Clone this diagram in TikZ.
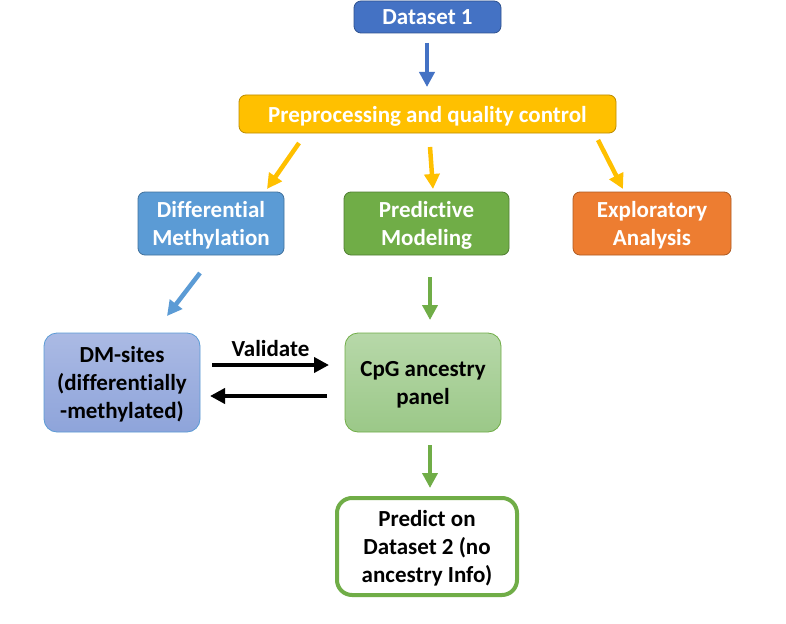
\documentclass[tikz,border=0pt]{standalone}
\usepackage{fontspec}
\setmainfont{Carlito}[Ligatures={NoCommon}]
\usetikzlibrary{arrows.meta,calc}
\definecolor{dblue}{HTML}{4472C4}
\definecolor{dblueb}{HTML}{2F528F}
\definecolor{yel}{HTML}{FFC000}
\definecolor{yelb}{HTML}{BC8C00}
\definecolor{lblue}{HTML}{5B9BD5}
\definecolor{lblueb}{HTML}{41719C}
\definecolor{grn}{HTML}{70AD47}
\definecolor{grnb}{HTML}{507E32}
\definecolor{org}{HTML}{ED7D31}
\definecolor{orgb}{HTML}{AE5A21}
\definecolor{dmtop}{HTML}{ABBAE4}
\definecolor{dmbot}{HTML}{8EA4DA}
\definecolor{cgtop}{HTML}{B7D8A9}
\definecolor{cgbot}{HTML}{9BC888}
\tikzset{
  box/.style={rectangle, rounded corners=7pt, line width=0.8pt, font=\fontsize{23}{28}\selectfont\bfseries, align=center, inner sep=0pt, text depth=0pt},
  wbox/.style={box, text=white},
  arr/.style={line width=4.5pt, -{Triangle[width=15pt,length=15pt]}},
}
\begin{document}
\begin{tikzpicture}[x=1pt,y=-1pt]
\fill[white] (0,0) rectangle (786,623);
\useasboundingbox (0,0) rectangle (786,623);
% boxes
\node[wbox, fill=dblue, draw=dblueb, minimum width=147pt, minimum height=32pt] (d1) at (427.5,17) {Dataset 1};
\node[wbox, fill=yel, draw=yelb, minimum width=377pt, minimum height=38pt] (pp) at (427.5,114) {Preprocessing and quality control};
\node[wbox, fill=lblue, draw=lblueb, minimum width=146pt, minimum height=63pt] (dm) at (211,223.5) {Differential\\Methylation};
\node[wbox, fill=grn, draw=grnb, minimum width=165pt, minimum height=63pt] (pm) at (426.5,223.5) {Predictive\\Modeling};
\node[wbox, fill=org, draw=orgb, minimum width=158pt, minimum height=63pt] (ea) at (652,223.5) {Exploratory\\Analysis};
\node[box, rounded corners=13pt, top color=dmtop, bottom color=dmbot, draw=lblue, minimum width=156pt, minimum height=99pt] (ds) at (122,382.5) {DM-sites\\(differentially\\-methylated)};
\node[box, rounded corners=13pt, top color=cgtop, bottom color=cgbot, draw=grn, minimum width=156pt, minimum height=99pt] (cg) at (423,382.5) {CpG ancestry\\panel};
\node[box, rounded corners=15pt, fill=white, draw=grn, line width=4pt, minimum width=180pt, minimum height=97pt] (pr) at (427,546.5) {Predict on\\Dataset 2 (no\\ancestry Info)};
% arrow end points
\coordinate (a1s) at (427,43);  \coordinate (a1e) at (427,87);
\coordinate (a2s) at (299,143); \coordinate (a2e) at (267,189);
\coordinate (a3s) at (430,147); \coordinate (a3e) at (433,189);
\coordinate (a4s) at (598,140); \coordinate (a4e) at (623,189);
\coordinate (a5s) at (200,273); \coordinate (a5e) at (167,316);
\coordinate (a6s) at (430,277); \coordinate (a6e) at (430,320);
\coordinate (a7s) at (212,365); \coordinate (a7e) at (329,365);
\coordinate (a8s) at (327,396); \coordinate (a8e) at (210,396);
\coordinate (a9s) at (430,445); \coordinate (a9e) at (430,488);
\draw[arr, dblue] (a1s) -- (a1e);
\draw[arr, yel] (a2s) -- (a2e);
\draw[arr, yel] (a3s) -- (a3e);
\draw[arr, yel] (a4s) -- (a4e);
\draw[arr, lblue] (a5s) -- (a5e);
\draw[arr, grn] (a6s) -- (a6e);
\draw[arr, black] (a7s) -- node[above=3pt, font=\fontsize{23}{28}\selectfont\bfseries] (val) {Validate} (a7e);
\draw[arr, black] (a8s) -- (a8e);
\draw[arr, grn] (a9s) -- (a9e);
\end{tikzpicture}
\end{document}
